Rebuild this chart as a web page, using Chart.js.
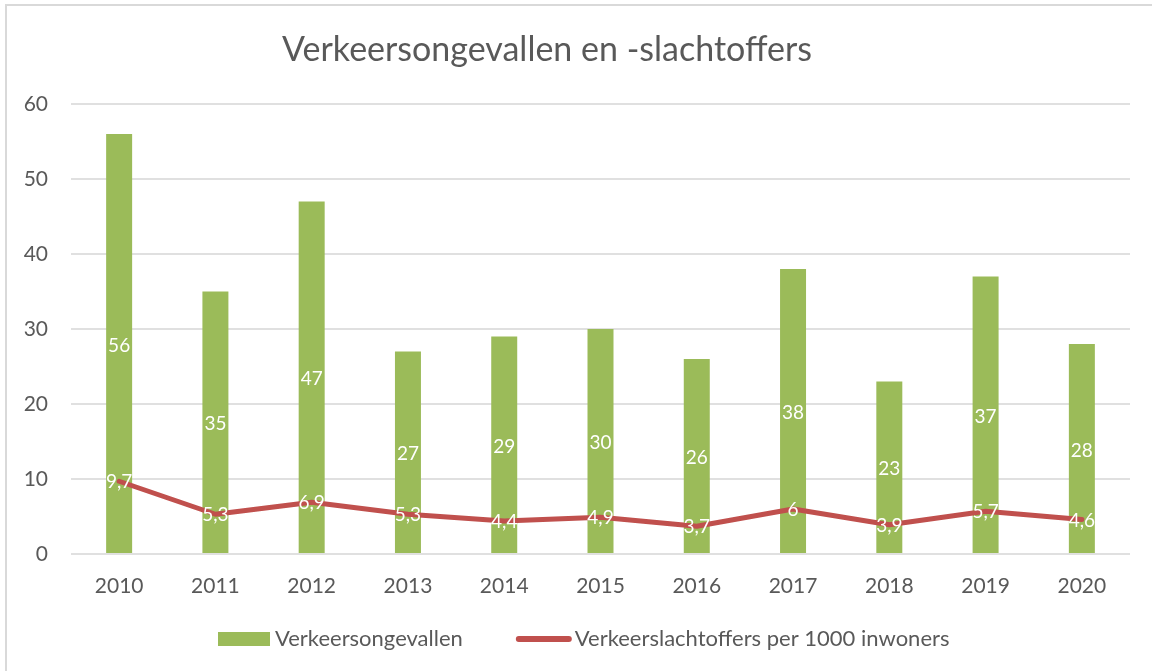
<!DOCTYPE html>
<html>
<head>
<meta charset="utf-8">
<script src="https://cdn.jsdelivr.net/npm/chart.js@4.4.0/dist/chart.umd.min.js"></script>
<style>
  body { margin: 0; background: #fff; overflow: hidden; }
  #wrap { position: relative; width: 1152px; height: 671px; }
  #frame { position: absolute; left: 5px; top: 4px; width: 1170px; height: 690px; border: 2px solid #d9d9d9; box-sizing: border-box; }
  canvas { position: absolute; left: 0; top: 0; }
</style>
</head>
<body>
<div id="wrap">
  <div id="frame"></div>
  <canvas id="chart" width="1152" height="671"></canvas>
</div>
<script>
// chart data
var years = ['2010', '2011', '2012', '2013', '2014', '2015', '2016', '2017', '2018', '2019', '2020'];
var ongevallen = [56, 35, 47, 27, 29, 30, 26, 38, 23, 37, 28];
var slachtoffers = [9.7, 5.3, 6.9, 5.3, 4.4, 4.9, 3.7, 6, 3.9, 5.7, 4.6];
var yTicks = [0, 10, 20, 30, 40, 50, 60];

var titleText = 'Verkeersongevallen en -slachtoffers';
var textColor = '#595959';
var fontFam = 'Lato, "Open Sans", sans-serif';

// white value labels in the middle of bars / on line points
var valueLabels = {
  id: 'valueLabels',
  afterDatasetsDraw: function (chart) {
    var ctx = chart.ctx;
    ctx.save();
    ctx.font = '19px ' + fontFam;
    ctx.fillStyle = '#ffffff';
    ctx.textAlign = 'center';
    ctx.textBaseline = 'middle';
    chart.data.datasets.forEach(function (ds, di) {
      var meta = chart.getDatasetMeta(di);
      meta.data.forEach(function (el, i) {
        var txt = String(ds.data[i]).replace('.', ',');
        var y = ds.type === 'line' ? el.y + 1 : (el.y + el.base) / 2 + 2;
        ctx.fillText(txt, el.x, y);
      });
    });
    ctx.restore();
  }
};

// title and legend drawn by hand so they sit where the original has them
var headerLegend = {
  id: 'headerLegend',
  afterDraw: function (chart) {
    var ctx = chart.ctx;
    ctx.save();
    ctx.fillStyle = textColor;
    ctx.font = '34px ' + fontFam;
    ctx.textAlign = 'center';
    ctx.textBaseline = 'middle';
    ctx.fillText(titleText, 547, 50);

    ctx.font = '22px ' + fontFam;
    ctx.textAlign = 'left';
    var y = 639;
    var x = 218;
    chart.data.datasets.forEach(function (ds) {
      if (ds.type === 'line') {
        ctx.strokeStyle = ds.borderColor;
        ctx.lineWidth = 6;
        ctx.lineCap = 'round';
        ctx.beginPath();
        ctx.moveTo(x + 3, y);
        ctx.lineTo(x + 53, y);
        ctx.stroke();
        x += 59;
      } else {
        ctx.fillStyle = ds.backgroundColor;
        ctx.fillRect(x, y - 7, 52, 14);
        x += 57;
      }
      ctx.fillStyle = textColor;
      ctx.fillText(ds.label, x, y);
      x += ctx.measureText(ds.label).width + 53;
    });
    ctx.restore();
  }
};

new Chart(document.getElementById('chart'), {
  data: {
    labels: years,
    datasets: [
      {
        type: 'bar',
        label: 'Verkeersongevallen',
        data: ongevallen,
        backgroundColor: '#9bbb59',
        barPercentage: 0.54,
        categoryPercentage: 0.5,
        order: 1
      },
      {
        type: 'line',
        label: 'Verkeerslachtoffers per 1000 inwoners',
        data: slachtoffers,
        borderColor: '#c0504d',
        backgroundColor: '#c0504d',
        borderWidth: 5,
        borderCapStyle: 'round',
        borderJoinStyle: 'round',
        pointRadius: 0,
        tension: 0,
        order: 0
      }
    ]
  },
  options: {
    responsive: false,
    animation: false,
    layout: { padding: { top: 104, right: 22, left: 0, bottom: 0 } },
    plugins: {
      legend: { display: false },
      title: { display: false },
      tooltip: { enabled: false }
    },
    scales: {
      x: {
        grid: { display: false },
        border: { display: false },
        ticks: { color: textColor, font: { family: fontFam, size: 21 }, padding: 12 },
        afterFit: function (scale) { scale.height = 117; }
      },
      y: {
        min: 0,
        max: 60,
        afterBuildTicks: function (scale) {
          scale.ticks = yTicks.map(function (v) { return { value: v }; });
        },
        grid: { color: '#e0e0e0', lineWidth: 2, drawTicks: false },
        border: { display: false },
        ticks: { color: textColor, font: { family: fontFam, size: 21 }, padding: 23 },
        afterFit: function (scale) { scale.width = 71; }
      }
    }
  },
  plugins: [valueLabels, headerLegend]
});
</script>
</body>
</html>
